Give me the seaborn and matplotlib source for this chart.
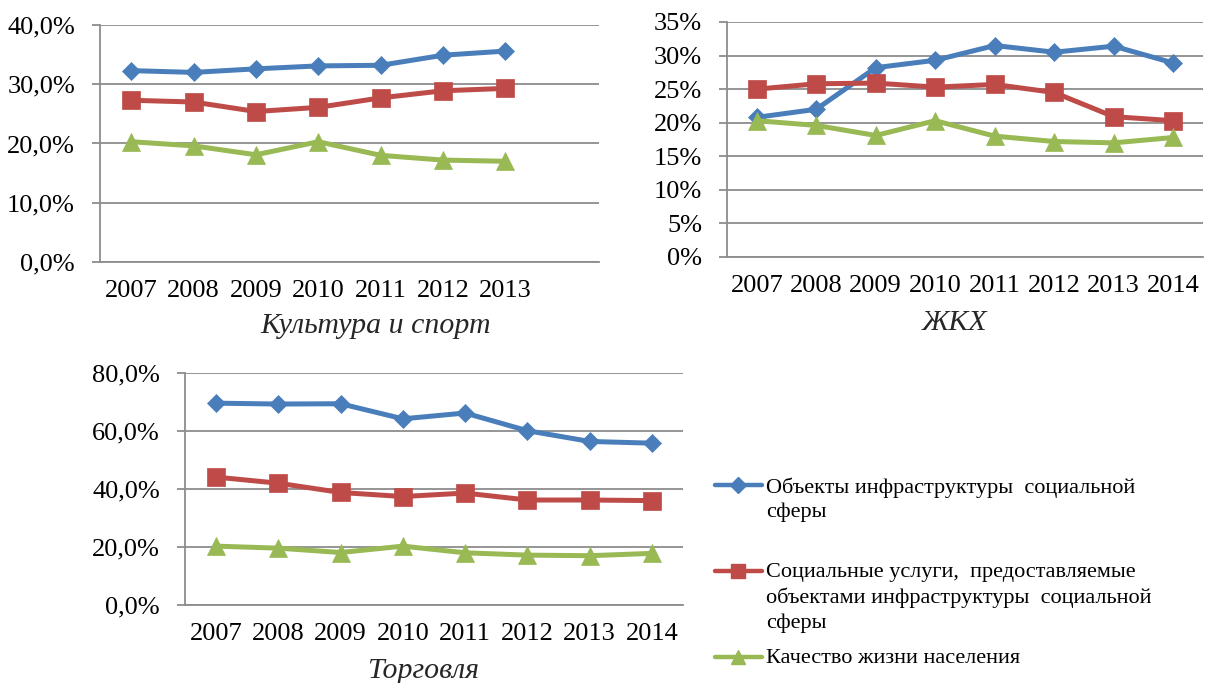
import numpy as np
import pandas as pd
import matplotlib
matplotlib.use("Agg")
import matplotlib.pyplot as plt
import seaborn as sns
from matplotlib.ticker import FuncFormatter, FixedLocator, MultipleLocator
from matplotlib.lines import Line2D

# ---------------- data ----------------
years_all = ["2007", "2008", "2009", "2010", "2011", "2012", "2013", "2014"]
years_culture = years_all[:7]

culture_objects = [32.3, 32.0, 32.6, 33.1, 33.2, 34.9, 35.6]
culture_services = [27.3, 27.0, 25.4, 26.1, 27.7, 28.9, 29.3]
culture_quality = [20.3, 19.6, 18.1, 20.3, 18.0, 17.2, 17.0]

housing_objects = [20.8, 22.0, 28.2, 29.3, 31.5, 30.5, 31.4, 28.9]
housing_services = [25.0, 25.8, 25.9, 25.3, 25.7, 24.5, 20.9, 20.3]
housing_quality = [20.3, 19.6, 18.1, 20.3, 18.0, 17.2, 17.0, 17.8]

trade_objects = [69.6, 69.3, 69.4, 64.2, 66.2, 60.1, 56.4, 55.8]
trade_services = [44.1, 42.0, 38.8, 37.4, 38.6, 36.2, 36.2, 36.0]
trade_quality = [20.3, 19.6, 18.1, 20.3, 18.0, 17.2, 17.0, 17.8]

series_names = [
    "Объекты инфраструктуры  социальной\nсферы",
    "Социальные услуги,  предоставляемые\nобъектами инфраструктуры  социальной\nсферы",
    "Качество жизни населения",
]
panel_titles = ["Культура и спорт", "ЖКХ", "Торговля"]

# ---------------- style ----------------
sns.set_theme(style="white")
plt.rcParams["font.family"] = ["Liberation Serif", "DejaVu Serif"]
plt.rcParams["text.color"] = "black"
plt.rcParams["xtick.color"] = "black"
plt.rcParams["ytick.color"] = "black"

colors = ["#4A7EBB", "#BE4B48", "#98B954"]
markers = ["D", "s", "^"]
msizes = [9.5, 13.5, 13.5]
gray = "#8C8C8C"
FS = 19
TFS = 21.5

fig = plt.figure(figsize=(12.06, 6.83), dpi=100)
W, H = 1206, 683


def add_axes(left, top, right, bottom):
    return fig.add_axes([left / W, 1 - bottom / H, (right - left) / W, (bottom - top) / H])


ax_c = add_axes(100, 25, 599, 262)
ax_h = add_axes(727, 22, 1203, 257)
ax_t = add_axes(185, 373, 683, 605)

fmt1 = FuncFormatter(lambda v, p: f"{v:.1f}%".replace(".", ","))
fmt0 = FuncFormatter(lambda v, p: f"{v:.0f}%")


def draw(ax, years, vals_list):
    for vals, col, mk, ms, name in zip(vals_list, colors, markers, msizes, series_names):
        df = pd.DataFrame({"year": years, "value": vals})
        sns.lineplot(data=df, x="year", y="value", ax=ax, color=col, marker=mk,
                     markersize=ms, markeredgecolor=col, markeredgewidth=0.5,
                     linewidth=3.6, label=name, sort=False)


def style(ax, ymax, ystep, fmt, n_slots, labels, title, tx, ty):
    ax.set_ylim(0, ymax)
    ax.yaxis.set_major_locator(MultipleLocator(ystep))
    ax.yaxis.set_major_formatter(fmt)
    ax.set_xlim(-0.5, n_slots - 0.5)
    ax.set_xticks(range(len(labels)))
    ax.set_xticklabels(labels)
    ax.xaxis.set_minor_locator(FixedLocator(np.arange(-0.5, n_slots, 1.0)))
    ax.tick_params(axis="x", which="major", length=0, pad=13, labelsize=FS)
    ax.tick_params(axis="x", which="minor", length=6, width=1.3, color=gray, direction="out")
    ax.tick_params(axis="y", which="major", length=6, width=1.3, color=gray,
                   labelsize=FS, pad=12, direction="out", left=True)
    ax.grid(axis="y", color=gray, linewidth=1.3)
    ax.grid(axis="x", visible=False)
    ax.set_axisbelow(True)
    for s in ["top", "right"]:
        ax.spines[s].set_visible(False)
    for s in ["left", "bottom"]:
        ax.spines[s].set_visible(True)
        ax.spines[s].set_color(gray)
        ax.spines[s].set_linewidth(1.3)
    ax.set_ylabel("")
    ax.set_xlabel(title, fontsize=TFS, fontstyle="italic", va="center")
    ax.xaxis.set_label_coords(tx, ty)
    if ax.get_legend() is not None:
        ax.get_legend().remove()


draw(ax_c, years_culture, [culture_objects, culture_services, culture_quality])
draw(ax_h, years_all, [housing_objects, housing_services, housing_quality])
draw(ax_t, years_all, [trade_objects, trade_services, trade_quality])

style(ax_c, 40, 10, fmt1, 8, years_culture, panel_titles[0], 0.553, -0.268)
style(ax_h, 35, 5, fmt0, 8, years_all, panel_titles[1], 0.477, -0.28)
style(ax_t, 80, 20, fmt1, 8, years_all, panel_titles[2], 0.478, -0.285)

# legend
handles = [Line2D([], [], color=c, marker=m, markersize=s, linewidth=3.2,
                  markeredgecolor=c)
           for c, m, s in zip(colors, markers, [8, 10, 10])]
labels = [series_names[0] + "\n", series_names[1], series_names[2]]
leg = fig.legend(handles, labels, loc="upper left", bbox_to_anchor=(715 / W, 1 - 477 / H),
                 frameon=False, fontsize=16, handlelength=2.1, handletextpad=0.18,
                 labelspacing=0.75, borderpad=0, borderaxespad=0)
for t in leg.get_texts():
    t.set_linespacing(1.36)
for col in leg._legend_handle_box.get_children():
    for hp in col.get_children():
        hp.align = "top"

fig.savefig("out.png", dpi=100)
